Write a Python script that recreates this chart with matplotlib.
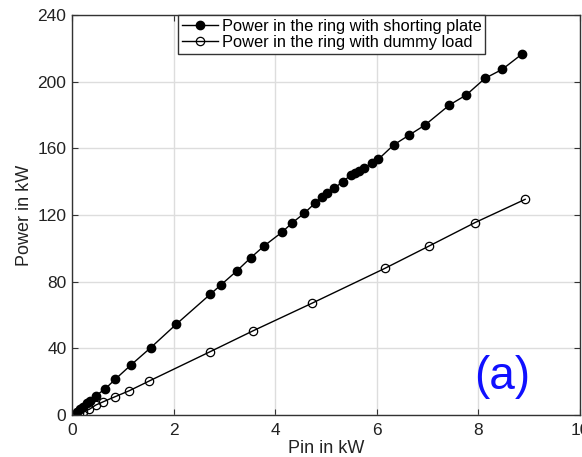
import matplotlib
matplotlib.use('Agg')
import matplotlib.pyplot as plt

# Ring power vs input power
pin_short = [0.09, 0.16, 0.22, 0.29, 0.35, 0.47, 0.65, 0.85, 1.16, 1.55,
             2.05, 2.72, 2.93, 3.25, 3.52, 3.78, 4.13, 4.34, 4.57, 4.78,
             4.92, 5.01, 5.16, 5.33, 5.49, 5.57, 5.65, 5.75, 5.9, 6.03,
             6.33, 6.64, 6.95, 7.43, 7.76, 8.13, 8.47, 8.86]
p_short = [2, 3.4, 5, 7, 8.4, 11.6, 15.6, 21.4, 30, 40.4,
           54.4, 72.4, 78, 86.6, 94.4, 101.4, 109.6, 115.4, 121, 127,
           130.6, 133.4, 136, 140, 144, 145, 146.6, 148, 151.4, 153.4,
           162, 168, 174, 186, 192, 202, 207.4, 216.6]

pin_dummy = [0.14, 0.22, 0.34, 0.47, 0.62, 0.85, 1.13, 1.52, 2.72, 3.57,
             4.72, 6.16, 7.03, 7.93, 8.92]
p_dummy = [1, 2, 3.4, 6, 8, 11, 14.6, 20.4, 38, 50.6,
           67, 88, 101.4, 115.4, 129.4]

plt.rcParams['font.family'] = ['Liberation Sans', 'DejaVu Sans']

fig = plt.figure(figsize=(5.82, 4.57), dpi=100)
ax = fig.add_axes([0.1237, 0.0919, 0.8729, 0.8753])

ax.plot(pin_short, p_short, '-o', color='black', lw=1.0, ms=6,
        label='Power in the ring with shorting plate')
ax.plot(pin_dummy, p_dummy, '-o', color='black', lw=1.0, ms=6,
        mfc='none', mew=0.9, label='Power in the ring with dummy load')

ax.set_xlim(0, 10)
ax.set_ylim(0, 240)
ax.set_xticks(range(0, 11, 2))
ax.set_yticks(range(0, 241, 40))
ax.grid(True, color='#dddddd', lw=1.0)
ax.set_axisbelow(True)
ax.tick_params(direction='in', top=True, right=True, labelsize=12.5, length=4,
               color='#333333', labelcolor='#222222', pad=4)
ax.tick_params(axis='x', pad=6)
for sp in ax.spines.values():
    sp.set_color('#333333')
    sp.set_linewidth(1.0)

ax.set_xlabel('Pin in kW', fontsize=13, labelpad=1, color='#222222')
ax.set_ylabel('Power in kW', fontsize=13, labelpad=3, color='#222222')

leg = ax.legend(loc='upper left', bbox_to_anchor=(0.209, 1.0), borderaxespad=0,
                fontsize=11.8, handlelength=2.2, labelspacing=0.05,
                handletextpad=0.2, borderpad=0.25, fancybox=False,
                framealpha=1, edgecolor='#333333')
leg.get_frame().set_linewidth(1.0)

ax.text(8.46, 22.8, '(a)', color='#1010ff', fontsize=33, ha='center', va='center')

fig.savefig('out.png', dpi=100)
